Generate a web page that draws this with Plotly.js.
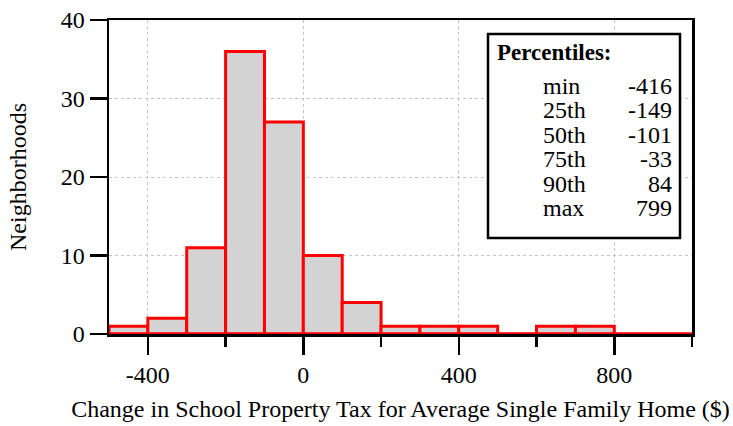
<!DOCTYPE html>
<html>
<head>
<meta charset="utf-8">
<script src="https://cdn.plot.ly/plotly-3.0.1.min.js"></script>
<style>html,body{margin:0;padding:0;background:#fff;}#chart{width:733px;height:426px;}</style>
</head>
<body>
<div id="chart"></div>
<script>
// Histogram bin edges ($) and counts of neighborhoods per bin
const binEdges = [-500, -400, -300, -200, -100, 0, 100, 200, 300, 400, 500, 600, 700, 800, 900, 1000];
const counts   = [1, 2, 11, 36, 27, 10, 4, 1, 1, 1, 0, 1, 1, 0, 0];

// Percentile table
const pctLabels = ["min", "25th", "50th", "75th", "90th", "max"];
const pctValues = [-416, -149, -101, -33, 84, 799];

const xTickVals = [-400, 0, 400, 800];
const yTickVals = [0, 10, 20, 30, 40];

const centers = counts.map((c, i) => (binEdges[i] + binEdges[i + 1]) / 2);
const widths = counts.map((c, i) => binEdges[i + 1] - binEdges[i]);

const FONT = "Liberation Serif, Times New Roman, serif";
const FS = 24;

const traces = [
  {
    type: "bar",
    x: centers,
    y: counts,
    width: widths,
    marker: { color: "#d3d3d3", line: { color: "#ff0000", width: 3 } },
    hoverinfo: "x+y"
  },
  {
    type: "scatter",
    mode: "lines",
    x: binEdges,
    y: binEdges.map(() => 0),
    line: { color: "#ff0000", width: 3 },
    hoverinfo: "skip"
  }
];

// plot area geometry (px) for placing the percentile box text
const plotTop = 20, plotH = 314, plotL = 109, plotW = 583;
const px2x = p => (p - plotL) / plotW;
const px2y = p => (plotTop + plotH - p) / plotH;

const annotations = [
  {
    xref: "paper", yref: "paper", x: px2x(495), y: px2y(53),
    xanchor: "left", yanchor: "middle", showarrow: false,
    text: "<b>Percentiles:</b>", font: { family: FONT, size: 23, color: "#000" }
  }
];
pctLabels.forEach((lab, i) => {
  const yy = px2y(86 + i * 24.4);
  annotations.push({
    xref: "paper", yref: "paper", x: px2x(541), y: yy,
    xanchor: "left", yanchor: "middle", showarrow: false,
    text: lab, font: { family: FONT, size: FS, color: "#000" }
  });
  annotations.push({
    xref: "paper", yref: "paper", x: px2x(674), y: yy,
    xanchor: "right", yanchor: "middle", showarrow: false,
    text: String(pctValues[i]), font: { family: FONT, size: FS, color: "#000" }
  });
});

const layout = {
  width: 733, height: 426,
  margin: { l: 109, r: 41, t: 20, b: 92, pad: 0 },
  paper_bgcolor: "#fff", plot_bgcolor: "#fff",
  showlegend: false,
  bargap: 0,
  font: { family: FONT, size: FS, color: "#000" },
  xaxis: {
    range: [binEdges[0], binEdges[binEdges.length - 1]],
    tickvals: xTickVals,
    ticktext: xTickVals.map(String),
    ticks: "outside", ticklen: 18, tickwidth: 2.5, tickcolor: "#000",
    showline: true, linecolor: "#000", linewidth: 2.5, mirror: true,
    showgrid: true, gridcolor: "#c4c4c4", gridwidth: 1, griddash: "3px,3px",
    zeroline: false,
    layer: "below traces",
    minor: { dtick: 200, tick0: 0, ticks: "outside", ticklen: 10, tickwidth: 2.5, tickcolor: "#000", showgrid: false },
    tickfont: { family: FONT, size: FS, color: "#000" },
    title: { text: "Change in School Property Tax for Average Single Family Home ($)", font: { family: FONT, size: FS, color: "#000" }, standoff: 13 }
  },
  yaxis: {
    range: [0, 40],
    tickvals: yTickVals,
    ticks: "outside", ticklen: 17, tickwidth: 2.5, tickcolor: "#000",
    showline: true, linecolor: "#000", linewidth: 2.5, mirror: true,
    showgrid: true, gridcolor: "#c4c4c4", gridwidth: 1, griddash: "3px,3px",
    zeroline: false,
    tickfont: { family: FONT, size: FS, color: "#000" },
    title: { text: "Neighborhoods", font: { family: FONT, size: FS, color: "#000" }, standoff: 28 }
  },
  shapes: [
    {
      type: "rect", xref: "paper", yref: "paper",
      x0: px2x(488), x1: px2x(680), y0: px2y(238), y1: px2y(34),
      line: { color: "#000", width: 2.5 }, fillcolor: "#fff", layer: "above"
    }
  ],
  annotations: annotations
};

Plotly.newPlot("chart", traces, layout, { displayModeBar: false, staticPlot: true });
</script>
</body>
</html>
